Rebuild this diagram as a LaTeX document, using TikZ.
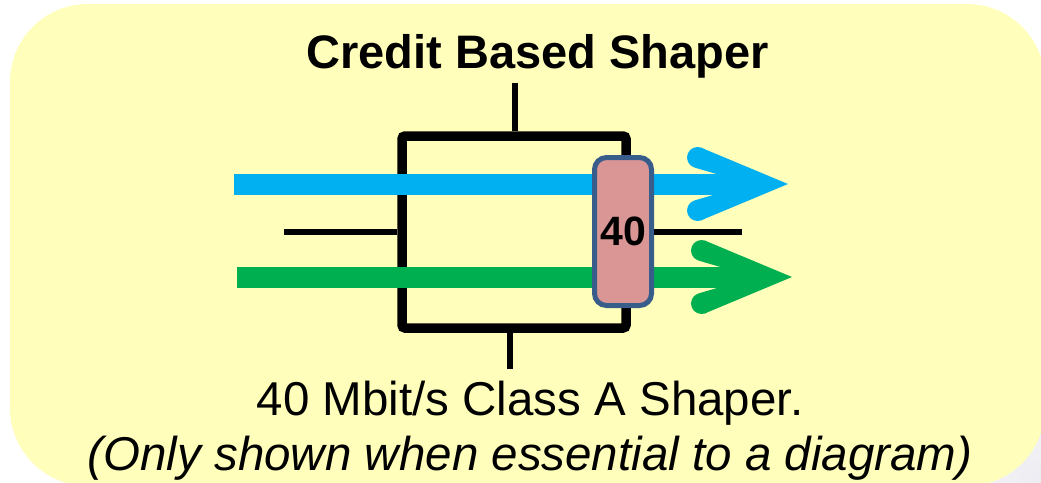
\documentclass[tikz,border=0pt]{standalone}
\usepackage{fontspec}
\setmainfont{Liberation Sans}
\usetikzlibrary{calc}

\definecolor{panel}{RGB}{255,255,187}
\definecolor{haze}{RGB}{236,236,242}
\definecolor{flowblue}{RGB}{0,176,240}
\definecolor{flowgreen}{RGB}{0,176,80}
\definecolor{gatefill}{RGB}{217,150,148}
\definecolor{gateedge}{RGB}{56,93,138}

\tikzset{
  wire/.style={line width=6, black},
  shaperbox/.style={draw=black, line width=9.5, rounded corners=3,
    minimum width=224, minimum height=192, inner sep=0},
  flow/.style={line width=21},
  gate/.style={draw=gateedge, fill=gatefill, line width=5, rounded corners=12,
    minimum width=57, minimum height=148, inner sep=0,
    font=\fontsize{41}{41}\selectfont\bfseries},
  heading/.style={anchor=base, inner sep=0, font=\fontsize{47}{47}\selectfont\bfseries},
  caption/.style={anchor=base, inner sep=0, font=\fontsize{47.5}{47.5}\selectfont},
}

\begin{document}
\begin{tikzpicture}[x=1pt, y=-1pt]
\useasboundingbox (0,0) rectangle (1041,482);
\fill[white] (0,0) rectangle (1041,482);
\shade[inner color=haze, outer color=white] (1041,482) circle (170);

% yellow panel
\fill[panel, rounded corners=78] (10,4) rectangle (1045,486);

% heading and caption
\node[heading] (title) at (537.5,68) {Credit Based Shaper};
\node[caption] (cap1) at (530,415) {40 Mbit/s Class A Shaper.};
\node[caption] (cap2) at (530,470) {\itshape (Only shown when essential to a diagram)};

% shaper block and its terminals
\node[shaperbox] (cbs) at (514,232) {};
\coordinate (topend) at (515,83);
\coordinate (botend) at (510,369);
\coordinate (inend) at (284,232);
\coordinate (outend) at (742,232);
\draw[wire] (topend) -- (topend |- cbs.north);
\draw[wire] (botend |- cbs.south) -- (botend);
\draw[wire] (inend) -- (cbs.west);

% blue flow
\coordinate (bs) at (234,184);
\coordinate (bj) at (750.5,184);
\coordinate (bt) at (788,184);
\coordinate (bc1) at (697.5,157.5);
\coordinate (bc2) at (697.5,210.5);
\draw[flow, flowblue] (bs) -- (bj);
\fill[flowblue] (bc1) circle (10.5) (bc2) circle (10.5);
\fill[flowblue] (bt) -- ($(bc1)!10.5pt!90:(bt)$) -- ($(bc1)!10.5pt!-90:(bt)$)
  -- (bj) -- ($(bc2)!10.5pt!90:(bt)$) -- ($(bc2)!10.5pt!-90:(bt)$) -- cycle;

% green flow
\coordinate (gs) at (237,277);
\coordinate (gj) at (754.5,277);
\coordinate (gt) at (792,277);
\coordinate (gc1) at (701.5,250.5);
\coordinate (gc2) at (701.5,303.5);
\draw[flow, flowgreen] (gs) -- (gj);
\fill[flowgreen] (gc1) circle (10.5) (gc2) circle (10.5);
\fill[flowgreen] (gt) -- ($(gc1)!10.5pt!90:(gt)$) -- ($(gc1)!10.5pt!-90:(gt)$)
  -- (gj) -- ($(gc2)!10.5pt!90:(gt)$) -- ($(gc2)!10.5pt!-90:(gt)$) -- cycle;

% 40 Mbit/s gate and its output terminal
\node[gate] (gate) at (623,231.5) {40};
\draw[wire] (gate.east |- outend) -- (outend);
\end{tikzpicture}
\end{document}
